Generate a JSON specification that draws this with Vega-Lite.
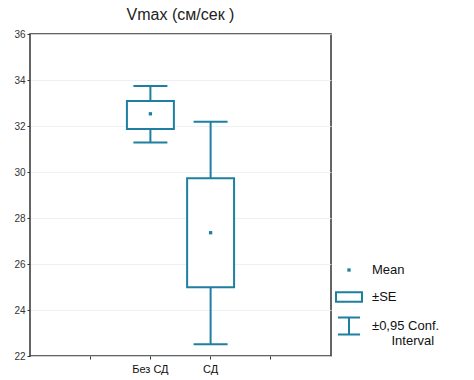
{
  "$schema": "https://vega.github.io/schema/vega-lite/v6.json",
  "width": 301,
  "height": 322,
  "autosize": "none",
  "padding": {"left": 30, "top": 34, "right": 143, "bottom": 24},
  "background": "white",
  "title": {"text": "Vmax (см/сек )", "fontSize": 16, "font": "Liberation Sans", "fontWeight": "normal", "color": "#222", "offset": 6, "anchor": "middle"},
  "config": {
    "font": "Liberation Sans",
    "view": {"stroke": "#333", "strokeWidth": 1.5},
    "axis": {"labelFont": "Liberation Sans", "labelColor": "#333", "domain": false, "tickColor": "#333", "tickSize": 3, "title": null}
  },
  "data": {"values": [
    {"group": "Без СД", "stat": "Mean", "mean": 32.53, "se_lo": 31.87, "se_hi": 33.09, "ci_lo": 31.28, "ci_hi": 33.74},
    {"group": "СД", "stat": "Mean", "mean": 27.36, "se_lo": 24.99, "se_hi": 29.73, "ci_lo": 22.51, "ci_hi": 32.19}
  ]},
  "encoding": {
    "x": {"field": "group", "type": "nominal", "sort": null,
      "scale": {"type": "band", "domain": ["_a", "Без СД", "СД", "_b"], "paddingInner": 0.22, "paddingOuter": 0.61},
      "axis": {"labelExpr": "indexof(datum.label, '_') == 0 ? '' : datum.label", "labelAngle": 0, "labelFontSize": 11, "labelColor": "#111", "grid": false, "labelPadding": 4}}
  },
  "layer": [
    {
      "mark": {"type": "rule", "color": "#1f7fa0", "strokeWidth": 2},
      "encoding": {
        "y": {"field": "ci_lo", "type": "quantitative", "scale": {"domain": [22, 36], "nice": false},
          "axis": {"values": [22, 24, 26, 28, 30, 32, 34, 36], "labelFontSize": 10, "grid": true, "gridColor": "#e6eef3", "gridWidth": 0.8}},
        "y2": {"field": "ci_hi"}
      }
    },
    {
      "mark": {"type": "tick", "orient": "horizontal", "color": "#1f7fa0", "size": 34, "thickness": 2, "opacity": 1},
      "encoding": {"y": {"field": "ci_lo", "type": "quantitative"}}
    },
    {
      "mark": {"type": "tick", "orient": "horizontal", "color": "#1f7fa0", "size": 34, "thickness": 2, "opacity": 1},
      "encoding": {"y": {"field": "ci_hi", "type": "quantitative"}}
    },
    {
      "mark": {"type": "bar", "fill": "white", "stroke": "#1f7fa0", "strokeWidth": 2},
      "encoding": {
        "y": {"field": "se_lo", "type": "quantitative"},
        "y2": {"field": "se_hi"}
      }
    },
    {
      "mark": {"type": "point", "size": 676, "color": "#1f7fa0", "stroke": "#1f7fa0", "strokeWidth": 2, "opacity": 1, "filled": false},
      "encoding": {
        "y": {"field": "mean", "type": "quantitative"},
        "shape": {"field": "stat", "type": "nominal",
          "scale": {"domain": ["Mean", "±SE", "±0,95 Conf. Interval"], "range": ["M-0.05,-0.05H0.05V0.05H-0.05Z", "M-1,-0.36H1V0.36H-1Z", "M-0.85,-0.65H0.85M0,-0.65V0.65M-0.85,0.65H0.85"]},
          "legend": {"title": null, "orient": "none", "legendX": 305, "legendY": 222, "symbolSize": 676, "symbolStrokeWidth": 2, "symbolStrokeColor": "#1f7fa0", "symbolFillColor": "transparent", "symbolOpacity": 1, "labelFontSize": 13, "labelColor": "#111", "labelFont": "Liberation Sans", "rowPadding": 6, "labelOffset": 9,
            "labelExpr": "datum.label == '±0,95 Conf. Interval' ? ['±0,95 Conf.', '\u200b\u2002\u2002\u2002Interval'] : datum.label"}}
      }
    }
  ]
}
